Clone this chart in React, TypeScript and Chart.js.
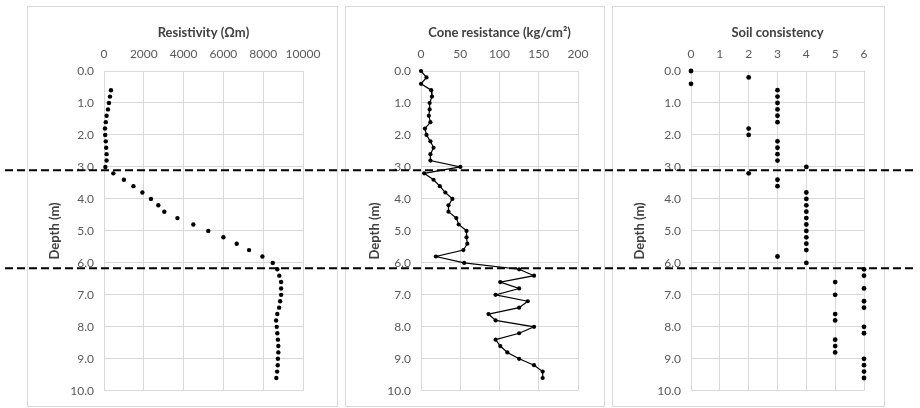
import React, { useEffect, useRef } from "react";
import { Chart, registerables } from "chart.js";

Chart.register(...registerables);

// ---------- data ----------
const depthAll = [
  0.0, 0.2, 0.4, 0.6, 0.8, 1.0, 1.2, 1.4, 1.6, 1.8, 2.0, 2.2, 2.4, 2.6, 2.8, 3.0, 3.2, 3.4, 3.6, 3.8,
  4.0, 4.2, 4.4, 4.6, 4.8, 5.0, 5.2, 5.4, 5.6, 5.8, 6.0, 6.2, 6.4, 6.6, 6.8, 7.0, 7.2, 7.4, 7.6, 7.8,
  8.0, 8.2, 8.4, 8.6, 8.8, 9.0, 9.2, 9.4, 9.6,
];

const resistivityDepth = [
  0.6, 0.8, 1.0, 1.2, 1.4, 1.6, 1.8, 2.0, 2.2, 2.4, 2.6, 2.8, 3.0, 3.2, 3.4, 3.6, 3.8,
  4.0, 4.2, 4.4, 4.6, 4.8, 5.0, 5.2, 5.4, 5.6, 5.8, 6.0, 6.2, 6.4, 6.6, 6.8, 7.0, 7.2, 7.4, 7.6, 7.8,
  8.0, 8.2, 8.4, 8.6, 8.8, 9.0, 9.2, 9.4, 9.6,
];

const resistivity = [
  350, 300, 250, 200, 130, 90, 50, 60, 90, 110, 130, 130, 70, 470, 1000, 1480, 1930,
  2360, 2730, 3030, 3690, 4490, 5240, 6000, 6670, 7290, 7960, 8480, 8710, 8810, 8900, 8900, 8900, 8850, 8800, 8710, 8650,
  8680, 8710, 8740, 8760, 8760, 8740, 8730, 8700, 8660,
];

const coneResistance = [
  0, 7, 0, 13, 14, 11, 11, 10, 12, 5, 7, 12, 16, 12, 12, 50, 4, 16, 24, 31,
  40, 35, 35, 45, 48, 58, 58, 59, 54, 19, 55, 125, 144, 101, 125, 95, 136, 125, 86, 95,
  144, 125, 95, 101, 110, 125, 144, 155, 155,
];

const soilConsistency = [
  0, 2, 0, 3, 3, 3, 3, 3, 3, 2, 2, 3, 3, 3, 3, 4, 2, 3, 3, 4,
  4, 4, 4, 4, 4, 4, 4, 4, 4, 3, 4, 6, 6, 5, 6, 5, 6, 6, 5, 5,
  6, 6, 5, 5, 5, 6, 6, 6, 6,
];

const boundaryDepths = [3.1, 6.17];

const titles = ["Resistivity (\u03A9m)", "Cone resistance (kg/cm\u00B2)", "Soil consistency"];
const xMaxes = [10000, 200, 6];
const xSteps = [2000, 50, 1];
const depthMax = 10;
const depthStep = 1;

// ---------- layout ----------
const H = 408;
const FONT = "Lato, 'Open Sans', sans-serif";
const GRID = "#d9d9d9";

type Spec = {
  left: number;
  width: number;
  borderL: number;
  borderR: number;
  plotL: number;
  plotR: number;
  yTitleOffset: number;
  dashFrom: number;
  dashTo: number;
  title: string;
  xMax: number;
  xStep: number;
  points: { x: number; y: number }[];
  line: boolean;
  radius: number;
};

const specs: Spec[] = [
  {
    left: 0, width: 341, borderL: 27, borderR: 337, plotL: 104, plotR: 303, yTitleOffset: 28,
    dashFrom: 5, dashTo: 341, title: titles[0], xMax: xMaxes[0], xStep: xSteps[0],
    points: resistivity.map((v, i) => ({ x: v, y: resistivityDepth[i] })), line: false, radius: 2.2,
  },
  {
    left: 341, width: 267, borderL: 4, borderR: 263, plotL: 80, plotR: 237, yTitleOffset: 30,
    dashFrom: 0, dashTo: 267, title: titles[1], xMax: xMaxes[1], xStep: xSteps[1],
    points: coneResistance.map((v, i) => ({ x: v, y: depthAll[i] })), line: true, radius: 2.1,
  },
  {
    left: 608, width: 312, borderL: 4, borderR: 276, plotL: 83, plotR: 256, yTitleOffset: 28,
    dashFrom: 0, dashTo: 307, title: titles[2], xMax: xMaxes[2], xStep: xSteps[2],
    points: soilConsistency.map((v, i) => ({ x: v, y: depthAll[i] })), line: false, radius: 2.4,
  },
];

function Panel({ spec }: { spec: Spec }) {
  const ref = useRef<HTMLCanvasElement>(null);

  useEffect(() => {
    const frame = {
      id: "frame",
      beforeDraw(chart: any) {
        const ctx = chart.ctx;
        ctx.save();
        ctx.fillStyle = "#ffffff";
        ctx.fillRect(0, 0, chart.width, chart.height);
        ctx.strokeStyle = GRID;
        ctx.lineWidth = 1;
        ctx.strokeRect(spec.borderL + 0.5, 6.5, spec.borderR - spec.borderL, 400);
        ctx.restore();
      },
      afterDraw(chart: any) {
        const ctx = chart.ctx;
        const ys = chart.scales.y;
        ctx.save();
        ctx.strokeStyle = "#000000";
        ctx.lineWidth = 2;
        ctx.setLineDash([8, 4]);
        ctx.lineDashOffset = ((spec.left + spec.dashFrom - 5) % 12 + 12) % 12;
        for (const d of boundaryDepths) {
          const y = ys.getPixelForValue(d);
          ctx.beginPath();
          ctx.moveTo(spec.dashFrom, y);
          ctx.lineTo(spec.dashTo, y);
          ctx.stroke();
        }
        ctx.restore();
      },
    };

    const chart = new Chart(ref.current!, {
      type: "scatter",
      data: {
        datasets: [
          {
            data: spec.points,
            showLine: spec.line,
            clip: false,
            borderColor: "#000000",
            borderWidth: 1.2,
            backgroundColor: "#000000",
            pointBackgroundColor: "#000000",
            pointBorderWidth: 0,
            pointRadius: spec.radius,
            pointHoverRadius: spec.radius,
          } as any,
        ],
      },
      options: {
        animation: false,
        responsive: false,
        maintainAspectRatio: false,
        events: [],
        layout: {
          padding: { left: spec.borderL, right: spec.width - spec.plotR, top: 0, bottom: H - 392 },
        },
        plugins: { legend: { display: false }, tooltip: { enabled: false }, title: { display: false } },
        scales: {
          x: {
            type: "linear",
            position: "top",
            min: 0,
            max: spec.xMax,
            ticks: {
              stepSize: spec.xStep,
              autoSkip: false,
              maxRotation: 0,
              color: "#595959",
              padding: 10,
              font: { family: FONT, size: 12 },
              callback: (v: any) => String(v),
            },
            grid: { color: GRID, lineWidth: 1, drawTicks: false },
            border: { color: GRID, width: 1 },
            title: {
              display: true,
              text: spec.title,
              color: "#404040",
              font: { family: FONT, size: 13, weight: "bold" },
              padding: { top: 25, bottom: 0 },
            },
            afterFit: (s: any) => {
              s.height = 71;
            },
          },
          y: {
            type: "linear",
            position: "left",
            reverse: true,
            min: 0,
            max: depthMax,
            ticks: {
              stepSize: depthStep,
              autoSkip: false,
              color: "#595959",
              padding: 10,
              font: { family: FONT, size: 12 },
              callback: (v: any) => Number(v).toFixed(1),
            },
            grid: { color: GRID, lineWidth: 1, drawTicks: false },
            border: { color: GRID, width: 1 },
            title: {
              display: true,
              text: "Depth (m)",
              color: "#404040",
              font: { family: FONT, size: 13, weight: "bold" },
              padding: { top: spec.yTitleOffset - 7.8, bottom: 0 },
            },
            afterFit: (s: any) => {
              s.width = spec.plotL - spec.borderL;
            },
          },
        },
      } as any,
      plugins: [frame],
    });
    return () => chart.destroy();
  }, [spec]);

  return (
    <canvas
      ref={ref}
      width={spec.width}
      height={H}
      style={{ position: "absolute", left: spec.left, top: 0, width: spec.width, height: H }}
    />
  );
}

export default function App() {
  return (
    <div style={{ position: "absolute", left: 0, top: 0, width: 920, height: H, background: "#ffffff" }}>
      {specs.map((s, i) => (
        <Panel key={i} spec={s} />
      ))}
    </div>
  );
}
